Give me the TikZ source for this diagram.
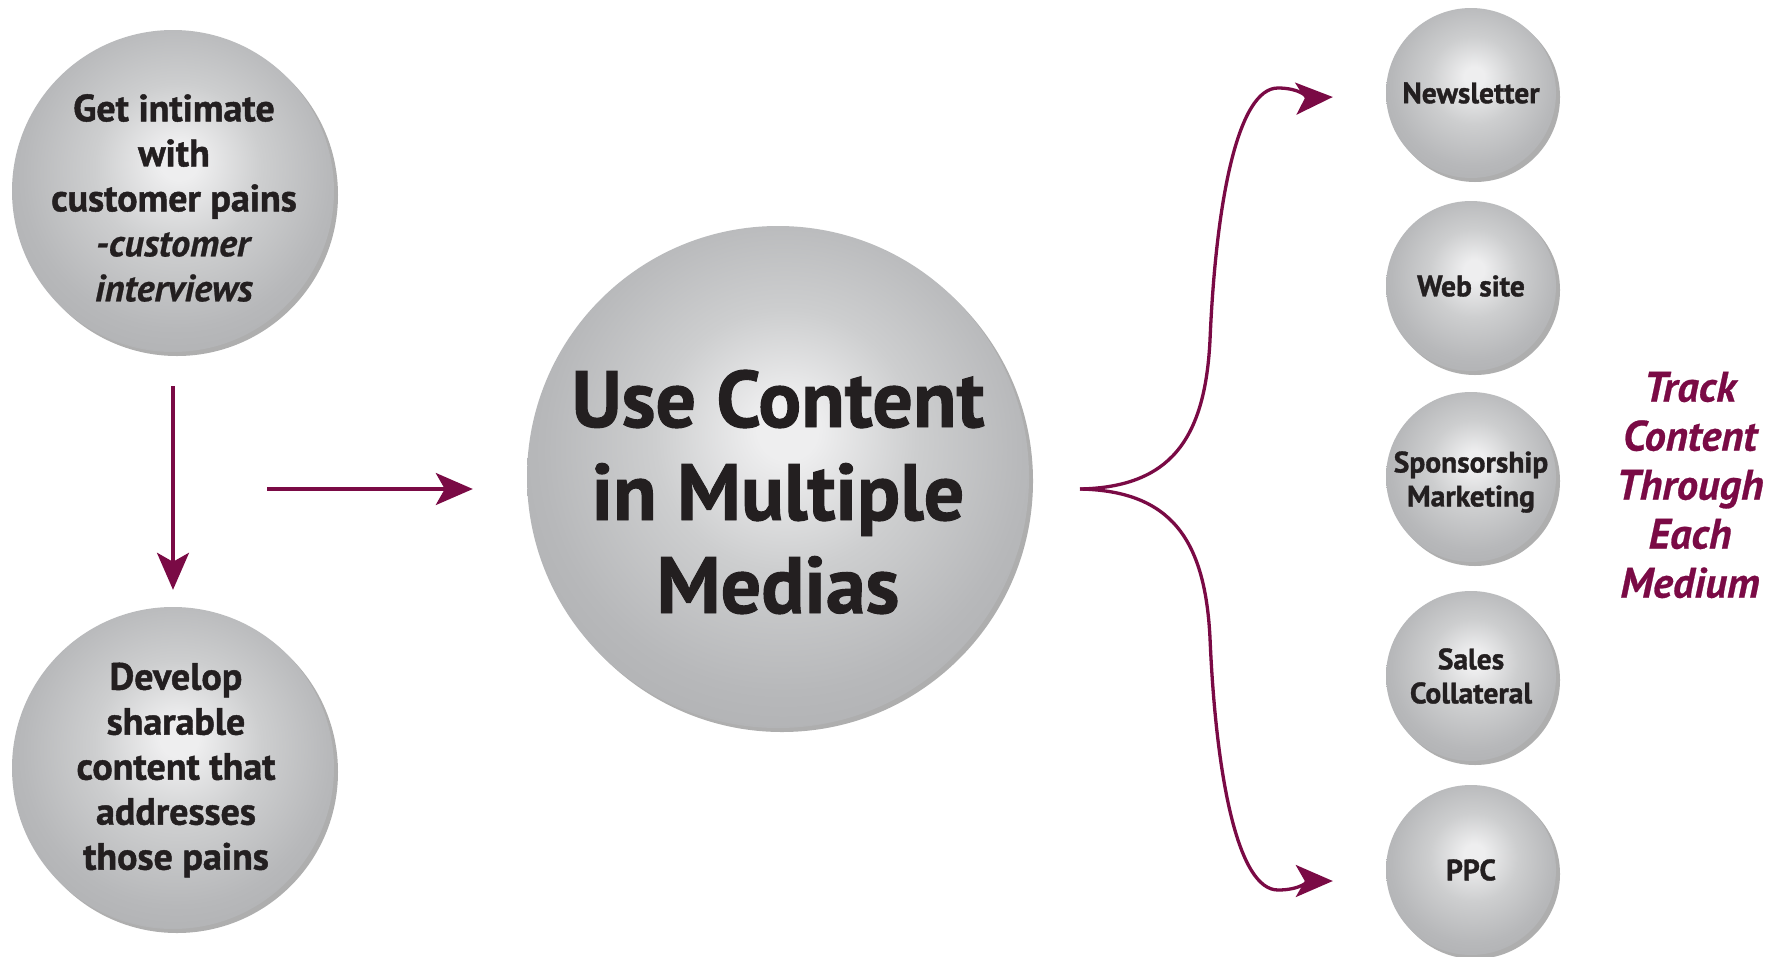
\documentclass[tikz,border=0pt]{standalone}
\usepackage{fontspec}
\setmainfont{PT Sans}[BoldFeatures={FakeBold=1.2}, BoldItalicFeatures={FakeBold=0.6}]
\usetikzlibrary{arrows.meta,shadows,calc}
\definecolor{arrowc}{HTML}{7A0A45}
\definecolor{textc}{HTML}{231F20}
\definecolor{hlc}{HTML}{EEEEEF}
\definecolor{midc}{HTML}{CDCECF}
\definecolor{basec}{HTML}{B7B8BA}
\definecolor{rimc}{HTML}{AFB0B2}
\pgfdeclareradialshading{sph}{\pgfpoint{1bp}{5bp}}{color(0bp)=(hlc); color(3bp)=(hlc); color(13bp)=(midc); color(24bp)=(basec); color(31bp)=(rimc); color(50bp)=(rimc)}
\tikzset{
  ball/.style={circle, inner sep=0pt, shading=sph,
    drop shadow={shadow xshift=4pt, shadow yshift=-4pt, opacity=0.45, fill=black!70}},
  bigtxt/.style={align=center, text=textc, font=\fontsize{80}{93}\selectfont\bfseries},
  midtxt/.style={align=center, text=textc, font=\fontsize{38}{45}\selectfont\bfseries},
  smalltxt/.style={align=center, text=textc, font=\fontsize{29.5}{34}\selectfont\bfseries},
  tracktxt/.style={align=center, text=arrowc, font=\fontsize{42.5}{49}\selectfont\bfseries\itshape},
  arr/.style={draw=arrowc, line width=3.3pt, -{Stealth[length=37pt,width=32pt,inset=9pt]}}
}
\begin{document}
\begin{tikzpicture}[x=1pt,y=-1pt]
\fill[white] (0,0) rectangle (1782,956);
\useasboundingbox (0,0) rectangle (1782,956);

% circles
\node[ball, minimum size=322pt] (pains) at (173,191) {};
\node[ball, minimum size=322pt] (dev) at (173,768) {};
\node[ball, minimum size=502pt] (use) at (778,477) {};
\node[ball, minimum size=170pt] (news) at (1471,93) {};
\node[ball, minimum size=170pt] (web) at (1471,286) {};
\node[ball, minimum size=170pt] (spon) at (1471,477) {};
\node[ball, minimum size=170pt] (sales) at (1471,676) {};
\node[ball, minimum size=170pt] (ppc) at (1471,870) {};

% texts
\node[midtxt] (painsT) at ($(pains)+(1,7)$) {Get intimate\\with\\customer pains\\\textit{-customer}\\\textit{interviews}};
\node[midtxt] (devT) at ($(dev)+(3,2)$) {Develop\\sharable\\content that\\addresses\\those pains};
\node[bigtxt] (useT) at ($(use)+(0,15)$) {Use Content\\in Multiple\\Medias};
\node[smalltxt] (newsT) at (news) {Newsletter};
\node[smalltxt] (webT) at (web) {Web site};
\node[smalltxt] (sponT) at ($(spon)+(0,5)$) {Sponsorship\\Marketing};
\node[smalltxt] (salesT) at (sales) {Sales\\Collateral};
\node[smalltxt] (ppcT) at (ppc) {PPC};
\node[tracktxt] (track) at (1690,485) {Track\\Content\\Through\\Each\\Medium};

% connectors
\draw[arr] ([yshift=-34pt]pains.south) -- ([yshift=17pt]dev.north);
\coordinate (hs) at (267,489);
\draw[arr, shorten >=54pt] (hs) -- (hs -| use.west);
\coordinate (cusp) at (1080,489);
\draw[arr] (cusp) .. controls (1170,487) and (1205,440) .. (1210,340)
  .. controls (1216,200) and (1238,88) .. (1278,88)
  .. controls (1300,88) and (1310,98) .. ($(news.west)+(-53,4)$);
\draw[arr] (cusp) .. controls (1170,491) and (1205,538) .. (1210,638)
  .. controls (1216,778) and (1238,890) .. (1278,890)
  .. controls (1300,890) and (1310,881) .. ($(ppc.west)+(-53,11)$);
\end{tikzpicture}
\end{document}
